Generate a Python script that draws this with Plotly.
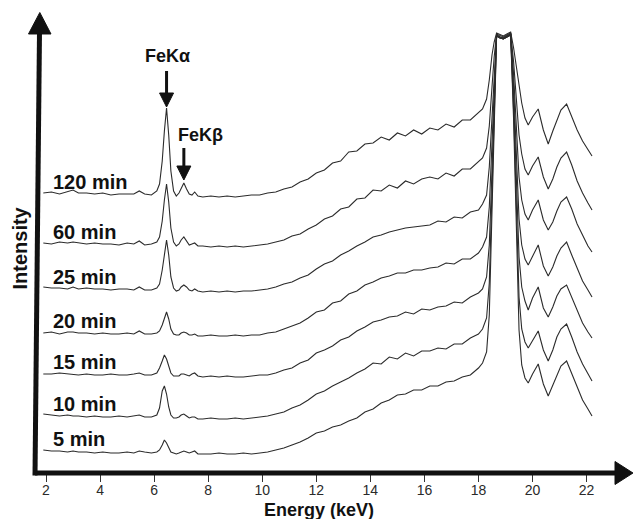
import plotly.graph_objects as go

# ---------------- data ----------------
energy = [1.9, 2.2, 2.5, 2.8, 3.0, 3.2, 3.5, 3.8, 4.1, 4.4,
          4.7, 5.0, 5.25, 5.45, 5.65, 5.9, 6.1, 6.2, 6.3, 6.38,
          6.46, 6.54, 6.62, 6.72, 6.82, 6.92, 7.0, 7.1, 7.2, 7.3,
          7.4, 7.5, 7.62, 7.8, 8.1, 8.4, 8.7, 9.0, 9.3, 9.6,
          9.9, 10.2, 10.5, 10.8, 11.1, 11.4, 11.7, 12.0, 12.3, 12.6,
          12.9, 13.2, 13.5, 13.8, 14.1, 14.4, 14.7, 15.0, 15.3, 15.6,
          15.9, 16.2, 16.5, 16.8, 17.1, 17.4, 17.7, 18.0, 18.15, 18.3,
          18.4, 18.5, 18.58, 18.67, 18.8, 18.92, 19.05, 19.19, 19.3, 19.42,
          19.5, 19.6, 19.72, 19.84, 20.0, 20.21, 20.4, 20.58, 20.75, 20.9,
          21.05, 21.26, 21.45, 21.65, 21.85, 22.05, 22.2]

int_120 = [4, 5, 3, 5, 7, 4, 4, 3, 4, 2, 3, 3, 3, 6, 3, 2,
           6, 13, 36, 66, 89, 62, 26, 6, 1,
           4, 9, 14, 8, 3, 2, 5, 1,
           0, 1, 0, 1, 0, 1, 2, 2, 4, 5, 8, 10, 15, 18,
           24, 27, 34, 36, 45, 46, 53, 54, 60, 57, 64, 61, 67, 63, 69, 67, 73, 70, 77, 77, 84, 88, 98,
           117, 142, 155,
           164, 162, 161, 163, 165,
           149, 125, 109, 94,
           79, 72, 80, 88, 67, 53, 66, 77, 87, 93, 80, 67, 56, 47, 41]

int_60 = [4, 3, 5, 4, 5, 4, 3, 4, 3, 3, 2, 4, 3, 6, 2, 3,
          5, 10, 26, 47, 63, 45, 19, 5, 1,
          3, 7, 10, 6, 2, 3, 4, 1,
          1, 0, 1, 0, 1, 0, 1, 2, 3, 5, 7, 11, 13, 18,
          22, 28, 31, 38, 40, 48, 49, 57, 56, 62, 59, 66, 63, 68, 70, 68, 74, 71, 78, 78, 85, 89, 99,
          121, 160, 190,
          213, 211, 210, 212, 214,
          185, 142, 112, 93,
          78, 72, 81, 90, 70, 58, 68, 80, 89, 95, 82, 66, 54, 44, 37]

int_25 = [5, 4, 4, 3, 5, 3, 4, 3, 3, 2, 3, 3, 2, 5, 2, 2,
          4, 8, 22, 40, 52, 37, 15, 4, 1,
          2, 5, 7, 5, 2, 1, 3, 1,
          0, 1, 0, 1, 0, 1, 1, 2, 3, 5, 8, 10, 14, 17,
          23, 28, 31, 37, 41, 46, 50, 55, 57, 60, 62, 64, 65, 66, 67, 71, 70, 75, 74, 80, 82, 88, 97,
          125, 176, 221,
          257, 255, 254, 256, 258,
          217, 158, 115, 92,
          78, 72, 82, 92, 72, 62, 70, 81, 90, 95, 83, 68, 57, 46, 40]

int_20 = [3, 4, 2, 4, 4, 3, 3, 2, 3, 2, 2, 3, 2, 5, 2, 2,
          3, 5, 11, 18, 24, 17, 7, 2, 1,
          1, 3, 4, 3, 1, 1, 2, 0,
          0, 1, 0, 0, 1, 0, 1, 1, 3, 4, 7, 10, 13, 18,
          24, 26, 33, 35, 42, 45, 51, 54, 58, 60, 63, 63, 66, 66, 68, 69, 73, 72, 77, 77, 83, 89, 99,
          129, 192, 252,
          301, 299, 298, 300, 302,
          249, 173, 117, 91,
          77, 71, 80, 91, 70, 60, 69, 80, 88, 94, 81, 67, 55, 46, 39]

int_15 = [3, 3, 4, 3, 3, 2, 3, 2, 2, 3, 2, 2, 3, 4, 2, 2,
          4, 9, 16, 22, 18, 10, 4, 1, 1,
          1, 3, 3, 2, 1, 3, 4, 1,
          0, 1, 0, 1, 0, 0, 1, 2, 2, 4, 7, 9, 14, 17,
          24, 27, 31, 37, 40, 46, 50, 55, 57, 60, 61, 65, 63, 68, 67, 70, 71, 75, 74, 80, 84, 88, 100,
          132, 207, 280,
          341, 339, 338, 340, 342,
          279, 187, 120, 90,
          76, 67, 79, 90, 69, 60, 70, 81, 88, 92, 80, 66, 54, 45, 39]

int_10 = [5, 4, 3, 4, 3, 3, 2, 3, 2, 2, 3, 2, 3, 4, 2, 2,
          4, 11, 28, 33, 25, 12, 4, 1, 1,
          2, 4, 5, 3, 1, 2, 2, 0,
          0, 1, 0, 0, 1, 0, 1, 2, 3, 5, 7, 11, 14, 19,
          25, 28, 33, 37, 41, 46, 50, 56, 55, 62, 60, 66, 63, 68, 68, 71, 70, 75, 75, 81, 85, 90, 101,
          136, 221, 309,
          383, 381, 380, 382, 384,
          308, 202, 122, 90,
          77, 71, 79, 88, 69, 58, 69, 82, 90, 95, 82, 67, 55, 45, 38]

int_5 = [4, 3, 3, 2, 3, 2, 2, 1, 2, 1, 1, 2, 1, 3, 2, 1,
         2, 4, 9, 14, 11, 6, 2, 1, 0,
         1, 2, 3, 2, 1, 2, 3, 0,
         0, 0, 1, 0, 0, 1, 0, 1, 2, 4, 6, 9, 12, 16,
         21, 23, 27, 29, 33, 36, 42, 45, 51, 54, 59, 60, 64, 64, 68, 68, 72, 73, 77, 79, 86, 91, 102,
         139, 234, 334,
         418, 416, 415, 417, 419,
         334, 214, 124, 89,
         76, 71, 80, 90, 70, 58, 69, 80, 88, 93, 80, 66, 54, 45, 38]

labels = ["5 min", "10 min", "15 min", "20 min", "25 min", "60 min", "120 min"]
series = [int_5, int_10, int_15, int_20, int_25, int_60, int_120]
offsets = [19, 54, 96, 137, 181, 226, 276]   # vertical stacking offsets (display)

tick_vals = [2, 4, 6, 8, 10, 12, 14, 16, 18, 20, 22]
tick_text = [str(v) for v in tick_vals]

fe_ka_energy = 6.46
fe_kb_energy = 7.1

# ---------------- layout geometry ----------------
W, H = 634, 519
ML, MR, MT, MB = 38, 0, 12, 46
PW, PH = W - ML - MR, H - MT - MB
X_RANGE = [1.704, 1.704 + PW / 27.03]
Y_RANGE = [0, PH]
FONT = "Liberation Sans, Arial, sans-serif"
INK = "#111111"


def px(x):
    return (x - ML) / PW


def py(y):
    return (H - MB - y) / PH


fig = go.Figure()
for name, vals, off in zip(labels, series, offsets):
    fig.add_trace(go.Scatter(
        x=energy, y=[v + off for v in vals], mode="lines", name=name,
        line=dict(color="#2b2b2b", width=1.1), hoverinfo="skip", showlegend=False))

annotations = []
for name, vals, off in zip(labels, series, offsets):
    annotations.append(dict(
        x=px(51), xref="paper", xanchor="left", y=off + 15, yref="y", yanchor="middle",
        text="<b>%s</b>" % name, showarrow=False,
        font=dict(family=FONT, size=20, color=INK)))

top = series[-1]
top_off = offsets[-1]
ka_peak = top[energy.index(fe_ka_energy)] + top_off
kb_peak = top[energy.index(fe_kb_energy)] + top_off

annotations += [
    dict(x=fe_ka_energy + 0.02, y=ka_peak + 52, xref="x", yref="y", text="<b>FeKα</b>",
         showarrow=False, font=dict(family=FONT, size=18, color=INK), yanchor="middle"),
    dict(x=fe_kb_energy + 0.63, y=kb_peak + 48, xref="x", yref="y", text="<b>FeKβ</b>",
         showarrow=False, font=dict(family=FONT, size=18, color=INK), yanchor="middle"),
    dict(x=px(319), y=py(510), xref="paper", yref="paper", text="<b>Energy (keV)</b>",
         showarrow=False, font=dict(family=FONT, size=18, color=INK), yanchor="middle"),
    dict(x=px(19), y=py(248.5), xref="paper", yref="paper", text="<b>Intensity</b>",
         showarrow=False, textangle=-90, font=dict(family=FONT, size=20, color=INK),
         xanchor="center", yanchor="middle"),
]

shapes = []
# x axis with arrow
shapes.append(dict(type="line", xref="paper", yref="paper", x0=px(35), x1=px(620),
                   y0=py(473), y1=py(473), line=dict(color=INK, width=5)))
shapes.append(dict(type="path", xref="paper", yref="paper",
                   path="M %f,%f L %f,%f L %f,%f Z" % (px(615), py(461.5), px(633), py(473),
                                                        px(615), py(484.5)),
                   fillcolor=INK, line=dict(color=INK, width=1)))
# y axis with arrow
shapes.append(dict(type="line", xref="paper", yref="paper", x0=px(35), x1=px(39.5),
                   y0=py(475.5), y1=py(32), line=dict(color=INK, width=5)))
shapes.append(dict(type="path", xref="paper", yref="paper",
                   path="M %f,%f L %f,%f L %f,%f Z" % (px(28.5), py(34), px(51), py(34),
                                                        px(39.8), py(12.5)),
                   fillcolor=INK, line=dict(color=INK, width=1)))


def arrow(xe, tip, tail):
    hw = 7 / 27.03
    hl = 14
    return [
        dict(type="line", xref="x", yref="y", x0=xe, x1=xe, y0=tail, y1=tip + hl - 1,
             line=dict(color=INK, width=3)),
        dict(type="path", xref="x", yref="y",
             path="M %f,%f L %f,%f L %f,%f Z" % (xe - hw, tip + hl, xe + hw, tip + hl, xe, tip),
             fillcolor=INK, line=dict(color=INK, width=1)),
    ]


shapes += arrow(fe_ka_energy, ka_peak + 1, ka_peak + 37)
shapes += arrow(fe_kb_energy, kb_peak + 3, kb_peak + 35)

fig.update_layout(
    width=W, height=H, margin=dict(l=ML, r=MR, t=MT, b=MB),
    paper_bgcolor="white", plot_bgcolor="white",
    xaxis=dict(range=X_RANGE, tickmode="array", tickvals=tick_vals, ticktext=tick_text,
               ticks="outside", ticklen=8, tickwidth=1.2, tickcolor="#333333",
               ticklabelstandoff=-4,
               showgrid=False, zeroline=False, showline=False,
               tickfont=dict(family=FONT, size=14, color="#2a2a2a")),
    yaxis=dict(range=Y_RANGE, visible=False, showgrid=False, zeroline=False),
    annotations=annotations, shapes=shapes,
)

fig.write_html("out.html", config={"displayModeBar": False})
